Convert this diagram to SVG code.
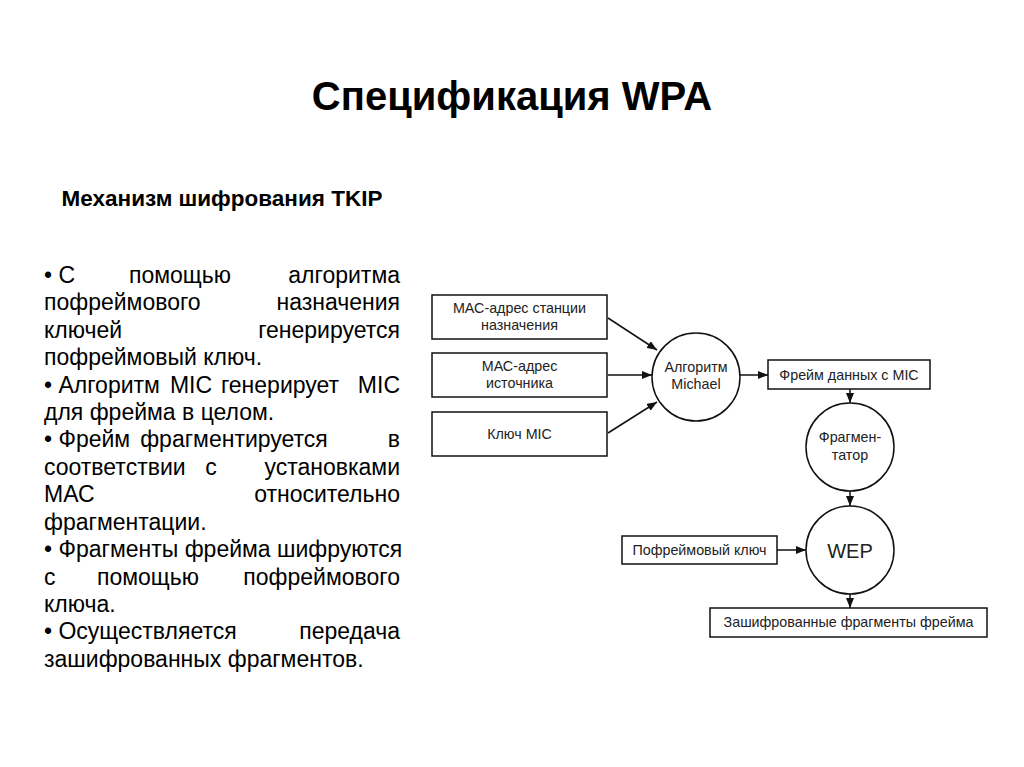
<svg xmlns="http://www.w3.org/2000/svg" width="1024" height="767" viewBox="0 0 1024 767">
<defs>
<marker id="ah" viewBox="0 0 10 8" refX="10" refY="4" markerWidth="10" markerHeight="8" markerUnits="userSpaceOnUse" orient="auto">
<path d="M0,0 L10,4 L0,8 Z" fill="#111"/>
</marker>
</defs>
<style>
.title{font-family:"Liberation Sans",Arial,sans-serif;font-weight:bold;font-size:40px;fill:#000}
.sub{font-family:"Liberation Sans",Arial,sans-serif;font-weight:bold;font-size:22.5px;fill:#000}
.body{font-family:"Liberation Sans",Arial,sans-serif;font-size:23px;fill:#000}
.box{fill:#fff;stroke:#111;stroke-width:1.5}
.lbl{font-family:"Liberation Sans",Arial,sans-serif;font-size:14.3px;fill:#222;text-anchor:middle}
.big{font-family:"Liberation Sans",Arial,sans-serif;font-size:20px;fill:#222;text-anchor:middle}
.con{stroke:#111;stroke-width:1.5;fill:none;marker-end:url(#ah)}
.e{text-anchor:end}
.m{text-anchor:middle}
</style>
<rect width="1024" height="767" fill="#fff"/>
<text class="title" x="512" y="110" text-anchor="middle">Спецификация WPA</text>
<text class="sub" x="222" y="206" text-anchor="middle">Механизм шифрования TKIP</text>
<g id="bodytext" class="body">
<text x="44" y="283">• С</text><text class="m" x="180" y="283">помощью</text><text class="e" x="400" y="283">алгоритма</text>
<text x="44" y="310">пофреймового</text><text class="e" x="400" y="310">назначения</text>
<text x="44" y="338">ключей</text><text class="e" x="400" y="338">генерируется</text>
<text x="44" y="365">пофреймовый ключ.</text>
<text x="44" y="393">• Алгоритм</text><text class="m" x="191" y="393">MIC</text><text class="m" x="280" y="393">генерирует</text><text class="e" x="400" y="393">MIC</text>
<text x="44" y="420">для фрейма в целом.</text>
<text x="44" y="447">• Фрейм</text><text class="m" x="234" y="447">фрагментируется</text><text class="e" x="400" y="447">в</text>
<text x="44" y="475">соответствии</text><text class="m" x="211" y="475">с</text><text class="e" x="400" y="475">установками</text>
<text x="44" y="502">МАС</text><text class="e" x="400" y="502">относительно</text>
<text x="44" y="530">фрагментации.</text>
<text x="44" y="557">• Фрагменты фрейма шифруются</text>
<text x="44" y="585">с</text><text class="m" x="148" y="585">помощью</text><text class="e" x="400" y="585">пофреймового</text>
<text x="44" y="612">ключа.</text>
<text x="44" y="639">• Осуществляется</text><text class="e" x="400" y="639">передача</text>
<text x="44" y="667">зашифрованных фрагментов.</text>
</g>
<g id="connectors">
<line class="con" x1="608" y1="318" x2="657" y2="350"/>
<line class="con" x1="608" y1="375" x2="652" y2="375"/>
<line class="con" x1="608" y1="433" x2="657" y2="402"/>
<line class="con" x1="740" y1="375" x2="768" y2="375"/>
<line class="con" x1="850" y1="389" x2="850" y2="403"/>
<line class="con" x1="850" y1="491" x2="850" y2="506"/>
<line class="con" x1="777" y1="550" x2="806" y2="550"/>
<line class="con" x1="850" y1="594" x2="850" y2="608"/>
</g>
<g id="mac-dst">
<rect class="box" x="432" y="295" width="175" height="44"/>
<text class="lbl" x="519.5" y="313">МАС-адрес станции</text>
<text class="lbl" x="519.5" y="330">назначения</text>
</g>
<g id="mac-src">
<rect class="box" x="432" y="353" width="175" height="44"/>
<text class="lbl" x="519.5" y="371">МАС-адрес</text>
<text class="lbl" x="519.5" y="388">источника</text>
</g>
<g id="mic-key">
<rect class="box" x="432" y="412" width="175" height="44"/>
<text class="lbl" x="519.5" y="439">Ключ MIC</text>
</g>
<g id="michael">
<circle class="box" cx="696" cy="377" r="44"/>
<text class="lbl" x="696" y="372">Алгоритм</text>
<text class="lbl" x="696" y="389">Michael</text>
</g>
<g id="frame-mic">
<rect class="box" x="768" y="360" width="162" height="29"/>
<text class="lbl" x="849" y="380">Фрейм данных с MIC</text>
</g>
<g id="fragmentator">
<circle class="box" cx="850" cy="447" r="44"/>
<text class="lbl" x="850" y="442">Фрагмен-</text>
<text class="lbl" x="850" y="460">татор</text>
</g>
<g id="wep">
<circle class="box" cx="850" cy="550" r="44"/>
<text class="big" x="850" y="558">WEP</text>
</g>
<g id="per-frame-key">
<rect class="box" x="622" y="536" width="155" height="28"/>
<text class="lbl" x="699.5" y="555">Пофреймовый ключ</text>
</g>
<g id="encrypted">
<rect class="box" x="710" y="608" width="277" height="29"/>
<text class="lbl" x="848.5" y="627">Зашифрованные фрагменты фрейма</text>
</g>
</svg>
